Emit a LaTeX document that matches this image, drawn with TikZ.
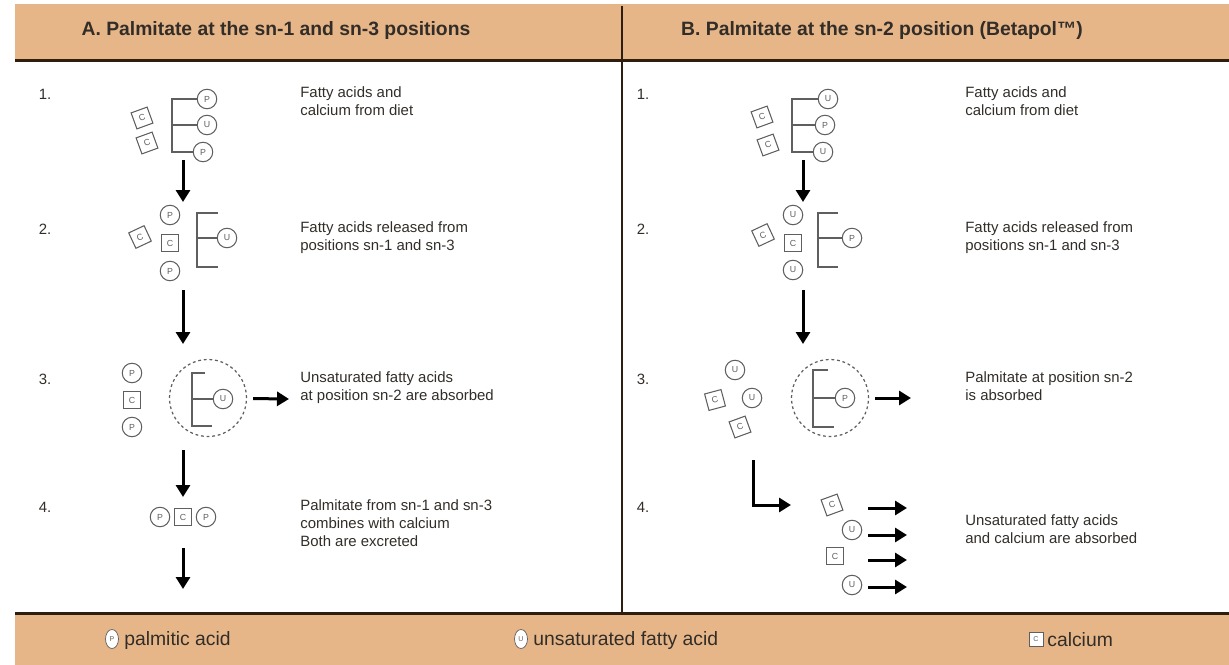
\documentclass[tikz,border=0pt]{standalone}
\usepackage{fontspec}
\setmainfont{Liberation Sans}
\usetikzlibrary{arrows.meta,shapes.geometric}

\definecolor{band}{RGB}{231,182,136}
\definecolor{rulecol}{RGB}{45,30,15}
\definecolor{glyph}{RGB}{95,95,95}
\definecolor{ink}{RGB}{50,45,40}

\tikzset{
  acid/.style={draw=glyph, circle, line width=0.6pt, minimum size=3.9mm, inner sep=0pt,
    font=\fontsize{5}{5}\selectfont, text=glyph},
  calc/.style={draw=glyph, rectangle, line width=0.6pt, minimum size=3.4mm, inner sep=0pt,
    font=\fontsize{5}{5}\selectfont, text=glyph},
  ring/.style={draw=glyph, circle, dash pattern=on 1.6pt off 1.6pt, line width=0.7pt,
    minimum size=15.4mm, inner sep=0pt},
  backbone/.style={draw=glyph, line width=0.7pt},
  flow/.style={line width=0.6mm, -{Triangle[length=2.4mm,width=2.8mm]}},
  steptext/.style={anchor=north west, align=left, inner sep=0pt,
    font=\fontsize{8.5}{10.2}\selectfont, text=ink},
  stepno/.style={inner sep=0pt, font=\fontsize{8.5}{10.2}\selectfont, text=ink},
  head/.style={font=\fontsize{11}{13}\selectfont\bfseries, text=ink},
  legacid/.style={draw=glyph, fill=white, ellipse, minimum width=2.6mm, minimum height=3.8mm,
    inner sep=0pt, font=\fontsize{4}{4}\selectfont, text=glyph},
  legcalc/.style={draw=glyph, fill=white, rectangle, minimum size=2.8mm, inner sep=0pt,
    font=\fontsize{4}{4}\selectfont, text=glyph},
  legtext/.style={anchor=west, inner sep=0pt, font=\fontsize{11}{13}\selectfont, text=ink},
}

\begin{document}
\begin{tikzpicture}[x=0.02cm, y=-0.02cm]
    \useasboundingbox (0,0) rectangle (1229,665);
    % bands and rules
    \fill[band] (15,4) rectangle (1229,59);
    \fill[band] (15,615) rectangle (1229,665);
    \draw[rulecol, line width=0.6mm] (15,61) -- (1229,61);
    \draw[rulecol, line width=0.6mm] (15,613) -- (1229,613);
    \draw[rulecol, line width=0.45mm] (622,6) -- (622,613);
    \node[head] (headA) at (276,31) {A. Palmitate at the sn-1 and sn-3 positions};
    \node[head] (headB) at (882,31) {B. Palmitate at the sn-2 position (Betapol™)};

    % panel A
    \node[stepno] (a1no) at (45,94)  {1.};
    \node[stepno] (a2no) at (45,229) {2.};
    \node[stepno] (a3no) at (45,379) {3.};
    \node[stepno] (a4no) at (45,507) {4.};
    \node[steptext] (a1txt) at (300,86)  {Fatty acids and\\calcium from diet};
    \node[steptext] (a2txt) at (300,221) {Fatty acids released from\\positions sn-1 and sn-3};
    \node[steptext] (a3txt) at (300,371) {Unsaturated fatty acids\\at position sn-2 are absorbed};
    \node[steptext] (a4txt) at (300,499) {Palmitate from sn-1 and sn-3\\combines with calcium\\Both are excreted};

    \node[calc, rotate=20] (a1c1) at (142,118) {C};
    \node[calc, rotate=20] (a1c2) at (147,143) {C};
    \node[acid] (a1p1) at (207,99)  {P};
    \node[acid] (a1u)  at (207,125) {U};
    \node[acid] (a1p2) at (203,152) {P};
    \coordinate (a1g) at (172,125);
    \draw[backbone] (a1p1.west) -| (a1g) |- (a1p2.west);
    \draw[backbone] (a1g) -- (a1u.west);
    \coordinate (a1s) at (183,160);
    \coordinate (a1e) at (183,202);
    \draw[flow] (a1s) -- (a1e);

    \node[calc, rotate=25] (a2c1) at (140,237) {C};
    \node[acid] (a2p1) at (170,215) {P};
    \node[calc] (a2c2) at (170,243) {C};
    \node[acid] (a2p2) at (170,271) {P};
    \node[acid] (a2u)  at (227,238) {U};
    \coordinate (a2g) at (197,238);
    \draw[backbone] (218,213) -| (a2g) |- (218,267);
    \draw[backbone] (a2g) -- (a2u.west);
    \coordinate (a2s) at (183,290);
    \coordinate (a2e) at (183,344);
    \draw[flow] (a2s) -- (a2e);

    \node[acid] (a3p1) at (132,373) {P};
    \node[calc] (a3c)  at (132,400) {C};
    \node[acid] (a3p2) at (132,427) {P};
    \node[ring] (a3ring) at (208,398) {};
    \node[acid] (a3u)  at (223,399) {U};
    \coordinate (a3g) at (192,399);
    \draw[backbone] (205,373) -| (a3g) |- (212,426);
    \draw[backbone] (a3g) -- (a3u.west);
    \coordinate (a3out) at (289,399);
    \draw[flow, shorten <=1.2mm] (a3ring) -- (a3out);
    \coordinate (a3s) at (183,450);
    \coordinate (a3e) at (183,497);
    \draw[flow] (a3s) -- (a3e);

    \node[acid] (a4p1) at (160,517) {P};
    \node[calc] (a4c)  at (183,517) {C};
    \node[acid] (a4p2) at (206,517) {P};
    \coordinate (a4s) at (183,548);
    \coordinate (a4e) at (183,589);
    \draw[flow] (a4s) -- (a4e);

    % panel B
    \node[stepno] (b1no) at (643,94)  {1.};
    \node[stepno] (b2no) at (643,229) {2.};
    \node[stepno] (b3no) at (643,379) {3.};
    \node[stepno] (b4no) at (643,507) {4.};
    \node[steptext] (b1txt) at (965,86)  {Fatty acids and\\calcium from diet};
    \node[steptext] (b2txt) at (965,221) {Fatty acids released from\\positions sn-1 and sn-3};
    \node[steptext] (b3txt) at (965,371) {Palmitate at position sn-2\\is absorbed};
    \node[steptext] (b4txt) at (965,514) {Unsaturated fatty acids\\and calcium are absorbed};

    \node[calc, rotate=20] (b1c1) at (762,117) {C};
    \node[calc, rotate=20] (b1c2) at (768,145) {C};
    \node[acid] (b1u1) at (828,99)  {U};
    \node[acid] (b1p)  at (825,125) {P};
    \node[acid] (b1u2) at (823,152) {U};
    \coordinate (b1g) at (792,125);
    \draw[backbone] (b1u1.west) -| (b1g) |- (b1u2.west);
    \draw[backbone] (b1g) -- (b1p.west);
    \coordinate (b1s) at (803,160);
    \coordinate (b1e) at (803,202);
    \draw[flow] (b1s) -- (b1e);

    \node[calc, rotate=25] (b2c1) at (763,235) {C};
    \node[acid] (b2u1) at (793,215) {U};
    \node[calc] (b2c2) at (793,243) {C};
    \node[acid] (b2u2) at (793,270) {U};
    \node[acid] (b2p)  at (852,238) {P};
    \coordinate (b2g) at (818,238);
    \draw[backbone] (838,213) -| (b2g) |- (838,267);
    \draw[backbone] (b2g) -- (b2p.west);
    \coordinate (b2s) at (803,290);
    \coordinate (b2e) at (803,344);
    \draw[flow] (b2s) -- (b2e);

    \node[acid] (b3u1) at (735,370) {U};
    \node[calc, rotate=15] (b3c1) at (715,400) {C};
    \node[acid] (b3u2) at (752,398) {U};
    \node[calc, rotate=20] (b3c2) at (740,427) {C};
    \node[ring] (b3ring) at (830,398) {};
    \node[acid] (b3p)  at (845,398) {P};
    \coordinate (b3g) at (813,398);
    \draw[backbone] (828,370) -| (b3g) |- (834,427);
    \draw[backbone] (b3g) -- (b3p.west);
    \coordinate (b3out) at (911,398);
    \draw[flow, shorten <=1.2mm] (b3ring) -- (b3out);

    \coordinate (b4top) at (753,460);
    \coordinate (b4turn) at (791,505);
    \draw[flow] (b4top) |- (b4turn);
    \node[calc, rotate=20] (b4c1) at (832,505) {C};
    \node[acid] (b4u1) at (852,530) {U};
    \node[calc] (b4c2) at (835,556) {C};
    \node[acid] (b4u2) at (852,585) {U};
    \coordinate (b4s1) at (868,508); \coordinate (b4e1) at (907,508);
    \coordinate (b4s2) at (868,535); \coordinate (b4e2) at (907,535);
    \coordinate (b4s3) at (868,560); \coordinate (b4e3) at (907,560);
    \coordinate (b4s4) at (868,587); \coordinate (b4e4) at (907,587);
    \draw[flow] (b4s1) -- (b4e1);
    \draw[flow] (b4s2) -- (b4e2);
    \draw[flow] (b4s3) -- (b4e3);
    \draw[flow] (b4s4) -- (b4e4);

    % legend
    \node[legacid] (keyP) at (112,639) {P};
    \node[legtext] (keyPtxt) at (124,640) {palmitic acid};
    \node[legacid] (keyU) at (521,639) {U};
    \node[legtext] (keyUtxt) at (533,640) {unsaturated fatty acid};
    \node[legcalc] (keyC) at (1036,639) {C};
    \node[legtext] (keyCtxt) at (1047,640) {calcium};
  \end{tikzpicture}
\end{document}
